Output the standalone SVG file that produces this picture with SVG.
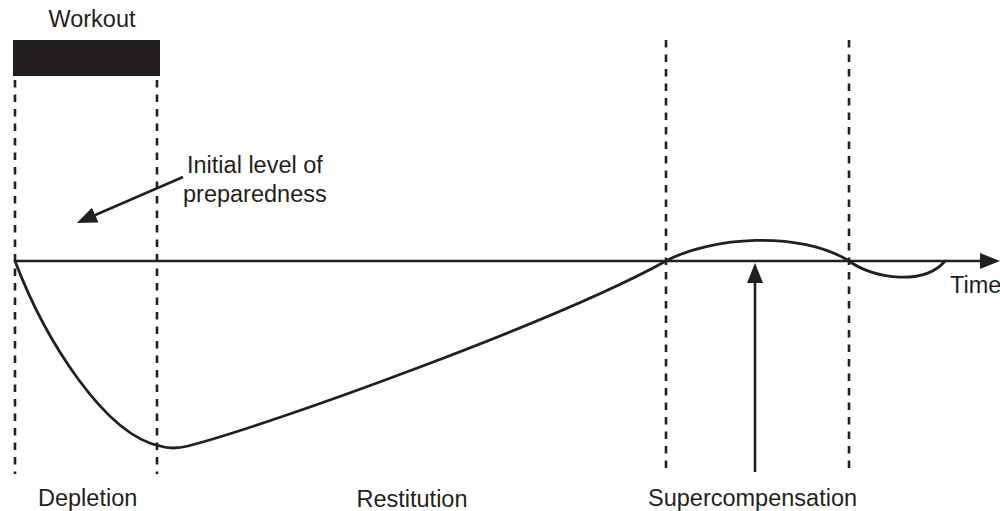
<svg xmlns="http://www.w3.org/2000/svg" width="1000" height="511" viewBox="0 0 1000 511">
  <style>
    .lbl { font-family: "Liberation Sans", Arial, sans-serif; font-size: 23.5px; fill: #231f20; }
    .dash { stroke: #231f20; stroke-width: 2.6; stroke-dasharray: 7.5 7; fill: none; }
    .solid { stroke: #231f20; stroke-width: 2.6; fill: none; }
    .curve { stroke: #231f20; stroke-width: 2.8; fill: none; stroke-linecap: round; stroke-linejoin: round; }
  </style>
  <defs>
    <marker id="ah" viewBox="0 0 20 16" refX="10" refY="8" markerWidth="20" markerHeight="16" markerUnits="userSpaceOnUse" orient="auto">
      <path d="M0,0 L20,8 L0,16 z" fill="#231f20"/>
    </marker>
  </defs>
  <rect width="1000" height="511" fill="#ffffff"/>

  <g id="workout">
    <rect x="13" y="40" width="147" height="36" fill="#231f20"/>
    <text class="lbl" x="92" y="27" text-anchor="middle">Workout</text>
  </g>

  <g id="guides">
    <line class="dash" x1="15" y1="80" x2="15" y2="474"/>
    <line class="dash" x1="157" y1="80" x2="157" y2="474"/>
    <line class="dash" x1="666" y1="40" x2="666" y2="474"/>
    <line class="dash" x1="849" y1="40" x2="849" y2="474"/>
  </g>

  <g id="connectors">
    <line class="solid" x1="15" y1="261" x2="990" y2="261" marker-end="url(#ah)"/>
    <line class="solid" x1="755" y1="472" x2="755" y2="273" marker-end="url(#ah)"/>
    <line class="solid" x1="183" y1="177" x2="86" y2="219" marker-end="url(#ah)"/>
  </g>

  <g id="curve">
    <path class="curve" d="M15,261 C45,340 105,435 160,446 C166,448 176,449 188,446 C270,425 560,320 666,261 C710,237 800,230 849,261 C875,280 925,285 945,261"/>
  </g>

  <g id="initial-level">
    <text class="lbl" x="187" y="173">Initial level of</text>
    <text class="lbl" x="183" y="202">preparedness</text>
  </g>

  <g id="time-label">
    <text class="lbl" x="950" y="293">Time</text>
  </g>

  <g id="depletion"><text class="lbl" x="38" y="506">Depletion</text></g>
  <g id="restitution"><text class="lbl" x="412" y="507" text-anchor="middle">Restitution</text></g>
  <g id="supercompensation"><text class="lbl" x="648" y="506">Supercompensation</text></g>
</svg>
